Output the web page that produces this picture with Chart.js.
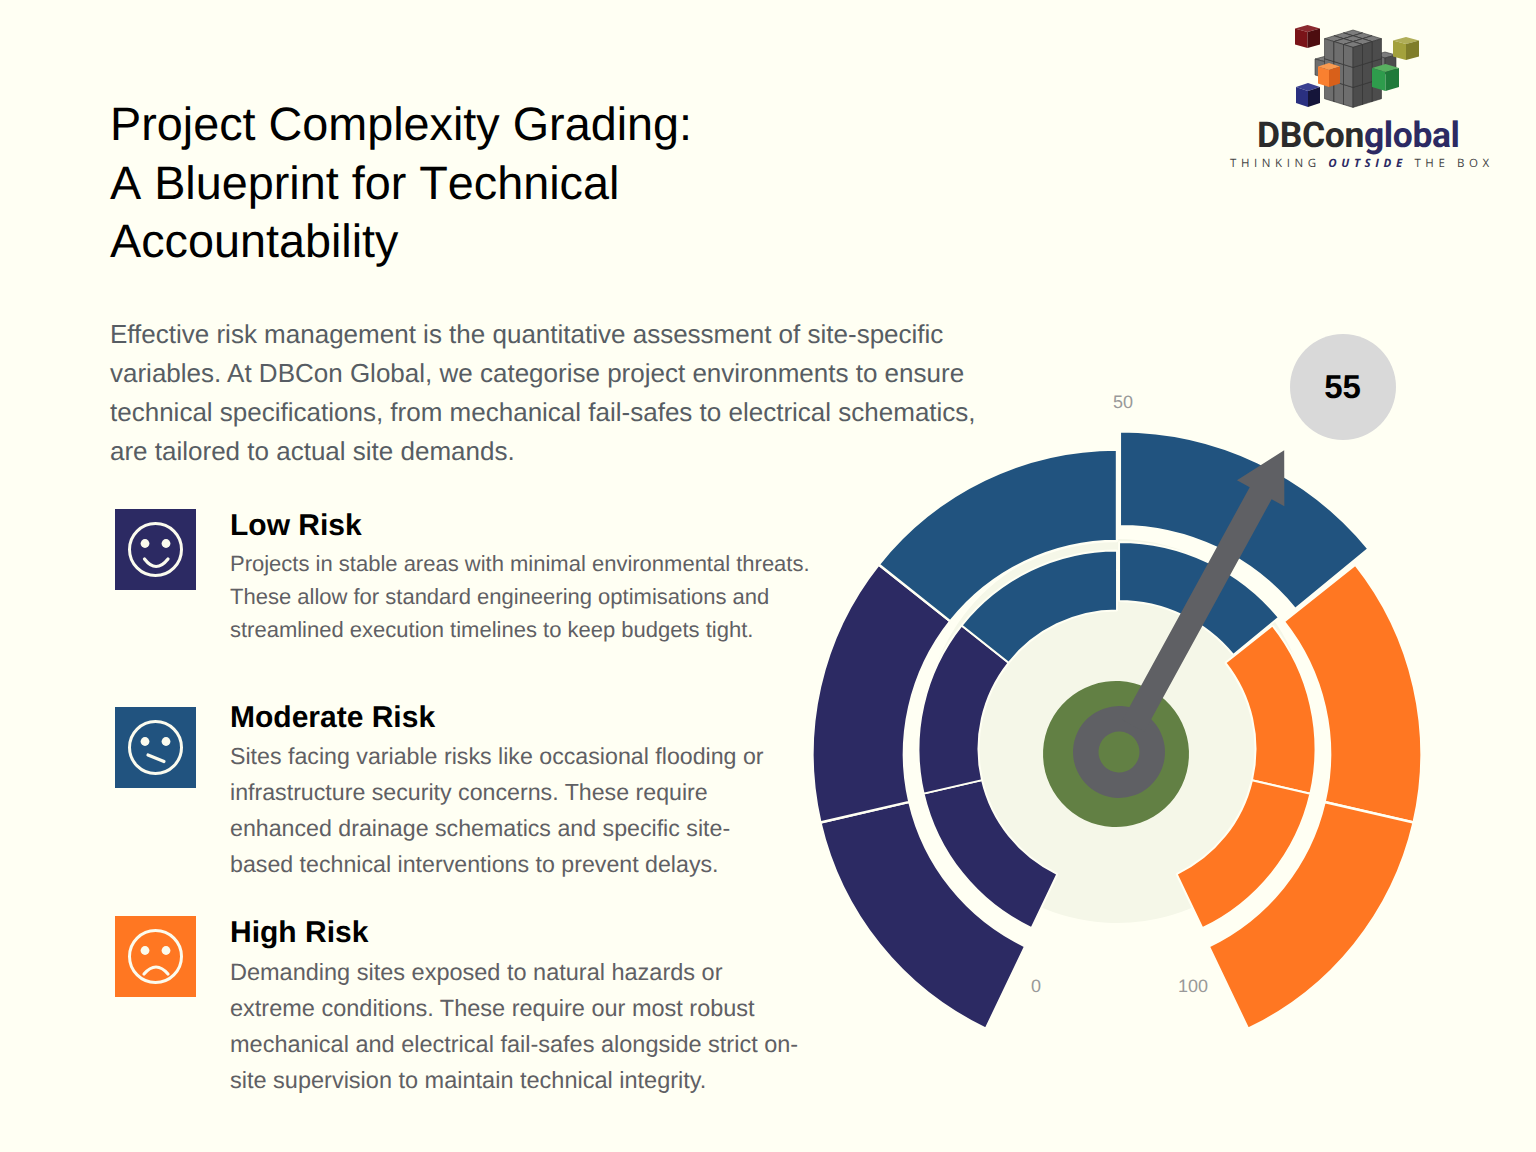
<!DOCTYPE html>
<html><head><meta charset="utf-8">
<script src="https://cdn.jsdelivr.net/npm/chart.js@4"></script>
<style>
html,body{margin:0;padding:0;background:#fffff3;}
body{width:1536px;height:1152px;position:relative;overflow:hidden;font-family:"Liberation Sans",Arial,sans-serif;text-rendering:geometricPrecision;}
.t{position:absolute;white-space:nowrap;}
canvas{position:absolute;}
.title{font-size:46.75px;line-height:58px;color:#000;left:110px;font-kerning:none;}
.body{font-size:26px;line-height:39px;color:#575d63;left:110px;}
.head{font-size:30px;line-height:36px;font-weight:bold;color:#000;left:230px;}
.desc{line-height:33px;color:#5f6064;left:230px;}
.low{font-size:22px;}
.mod{font-size:23.2px;}
.high{font-size:23.5px;}
.tick{font-size:18px;line-height:22px;color:#999;transform:translateX(-50%);}
.icon{position:absolute;left:115px;width:81px;height:81px;}
#bubble{position:absolute;left:1290px;top:334px;width:106px;height:106px;border-radius:50%;background:#d9d9d9;text-align:center;line-height:106px;font-size:33px;font-weight:bold;color:#000;text-indent:-1px;}
</style></head>
<body>
<div id="root"></div>
<svg id="logo" width="1536" height="180" style="position:absolute;left:0;top:0"></svg>
<script>
// ---- data ----
const segmentValues = [16.67, 16.67, 16.67, 16.67, 16.67, 16.67];
const segmentColors = ['#2c2a63', '#2c2a63', '#21537f', '#21537f', '#ff7722', '#ff7722'];
const activeSegment = 3;
const activeValues = [16.67, 16.67, 16.67, 16.36, 0.31, 16.67, 16.67];
const gapValue = 16.5;
const tickLabels = ['0', '50', '100'];
const gaugeValue = 55;
const titleLines = ['Project Complexity Grading:', 'A Blueprint for Technical', 'Accountability'];
const introLines = ['Effective risk management is the quantitative assessment of site-specific',
  'variables. At DBCon Global, we categorise project environments to ensure',
  'technical specifications, from mechanical fail-safes to electrical schematics,',
  'are tailored to actual site demands.'];
const lowLines = ['Projects in stable areas with minimal environmental threats.',
  'These allow for standard engineering optimisations and',
  'streamlined execution timelines to keep budgets tight.'];
const modLines = ['Sites facing variable risks like occasional flooding or',
  'infrastructure security concerns. These require',
  'enhanced drainage schematics and specific site-',
  'based technical interventions to prevent delays.'];
const highLines = ['Demanding sites exposed to natural hazards or',
  'extreme conditions. These require our most robust',
  'mechanical and electrical fail-safes alongside strict on-',
  'site supervision to maintain technical integrity.'];

// ---- text ----
const root = document.getElementById('root');
function text(cls, str, cy, lh, x) {
  const d = document.createElement('div');
  d.className = 't ' + cls; d.textContent = str;
  d.style.top = (cy - lh / 2) + 'px';
  if (x !== undefined) d.style.left = x + 'px';
  root.appendChild(d);
}
titleLines.forEach((s, i) => text('title', s, [124, 183, 241][i], 58));
introLines.forEach((s, i) => text('body', s, 334 + 39 * i, 39));
text('head', 'Low Risk', 526, 36);
lowLines.forEach((s, i) => text('desc low', s, 563.5 + 33 * i, 33));
text('head', 'Moderate Risk', 718, 36);
modLines.forEach((s, i) => text('desc mod', s, 756 + 36 * i, 33));
text('head', 'High Risk', 933, 36);
highLines.forEach((s, i) => text('desc high', s, 972 + 36 * i, 33));
text('tick', tickLabels[0], 986, 22, 1036);
text('tick', tickLabels[1], 402, 22, 1123);
text('tick', tickLabels[2], 986, 22, 1193);

// ---- icons ----
function face(top, bg, mouth) {
  const s = document.createElementNS('http://www.w3.org/2000/svg', 'svg');
  s.setAttribute('class', 'icon'); s.style.top = top + 'px';
  s.setAttribute('viewBox', '0 0 81 81');
  s.innerHTML = `<rect width="81" height="81" fill="${bg}"/>
  <circle cx="40.5" cy="40.5" r="26" fill="none" stroke="#fbfbee" stroke-width="3"/>
  <circle cx="30" cy="34.5" r="4.4" fill="#fbfbee"/><circle cx="51" cy="34.5" r="4.4" fill="#fbfbee"/>
  <path d="${mouth}" fill="none" stroke="#fbfbee" stroke-width="3.2" stroke-linecap="round"/>`;
  root.appendChild(s);
}
face(508.7, '#2c2a63', 'M29.5 50 Q41 65 53 50');
face(706.7, '#21537f', 'M33 48 L49 54.5');
face(915.7, '#ff7722', 'M29 58 Q41 44 53 58');

// ---- logo ----
const logo = document.getElementById('logo');
function cube(cx, y, w, th, vh, top, left, right, stroke) {
  const p = a => a.map(q => q.join(',')).join(' ');
  const sw = stroke ? `stroke="${stroke}" stroke-width="0.6"` : '';
  const m = y + th / 2, b = y + th;
  return `<polygon points="${p([[cx,y],[cx+w,m],[cx,b],[cx-w,m]])}" fill="${top}" ${sw}/>
  <polygon points="${p([[cx-w,m],[cx,b],[cx,b+vh],[cx-w,m+vh]])}" fill="${left}" ${sw}/>
  <polygon points="${p([[cx+w,m],[cx,b],[cx,b+vh],[cx+w,m+vh]])}" fill="${right}" ${sw}/>`;
}
let lg = '<g style="filter:blur(0.4px)">';
const G = ['#7c7c7c', '#6e6e6e', '#4c4c4c', '#333'];
lg += cube(1326, 56, 11, 6, 16, G[0], G[1], G[2], G[3]);
lg += cube(1385, 52, 11, 6, 16, G[0], G[1], G[2], G[3]);
const gw = 9.5, gt = 2.9, gv = 20;
for (let z = 2; z >= 0; z--) for (let x = 0; x < 3; x++) for (let y = 0; y < 3; y++) {
  lg += cube(1353 + (x - y) * gw, 30 + (x + y) * gt + z * gv, gw, gt * 2, gv, G[0], G[1], G[2], G[3]);
}
lg += cube(1307.5, 25, 12.5, 7, 16, '#8a2a2f', '#7a1418', '#4d0d10');
lg += cube(1406, 37, 13, 7, 16, '#b0ae58', '#a3a13c', '#7f7d2a');
lg += cube(1308, 83, 12, 8, 16, '#3a4090', '#2a3080', '#15153a');
lg += cube(1329, 63, 11, 7, 17, '#f99a50', '#f98030', '#d8601a');
lg += cube(1385.5, 64, 13.5, 8, 19, '#58b060', '#2e9c4c', '#1f7a3a');
lg += '</g>';
lg += `<text x="1257" y="147" font-family="Roboto" font-weight="700" font-size="35.5" fill="#2b2b2b" letter-spacing="-0.4">DBCon<tspan fill="#2c2a63">global</tspan></text>`;
lg += `<text x="1230" y="167" font-family="Open Sans" font-size="11.5" fill="#444" letter-spacing="4.6">THINKING <tspan font-weight="700" font-style="italic" fill="#2c2a63">OUTSIDE</tspan> THE BOX</text>`;
logo.innerHTML = lg;

// ---- gauge ----
function ring(cx, cy, ro, ri, values, colors, border, extraPlugins) {
  const half = 380;
  const c = document.createElement('canvas');
  c.width = half * 2; c.height = half * 2;
  c.style.cssText = `left:${cx - half}px;top:${cy - half}px;width:${half * 2}px;height:${half * 2}px`;
  document.body.appendChild(c);
  return new Chart(c, {
    type: 'doughnut',
    data: { labels: values.map((_, i) => 'S' + i), datasets: [{
      data: values, backgroundColor: colors,
      borderColor: colors.map(k => k === 'transparent' ? 'transparent' : '#fffff3'),
      borderWidth: border
    }] },
    options: {
      responsive: false, animation: false, maintainAspectRatio: false,
      rotation: -154.5, circumference: 360,
      radius: ro, cutout: (ri / ro * 100) + '%',
      layout: { padding: 0 },
      plugins: { legend: { display: false }, tooltip: { enabled: false } }
    },
    plugins: extraPlugins || []
  });
}
const allValues = segmentValues.concat([gapValue]);
const normalColors = segmentColors.map((k, i) => i === activeSegment ? 'transparent' : k).concat(['transparent']);
const activeSet = activeValues.concat([gapValue]);
const activeColors = activeSet.map((_, i) => i === activeSegment ? segmentColors[activeSegment] : 'transparent');

ring(1117, 731, 192, 0, [1], ['#f5f7e8'], 0);
ring(1117, 754, 304.5, 213, allValues, normalColors, 2.5);
ring(1120, 753, 321.5, 227, activeSet, activeColors, 2);
ring(1117, 749, 198.5, 138.5, allValues, normalColors, 2);
ring(1119, 749, 207, 148, activeSet, activeColors, 2);
ring(1116, 754, 73, 0, [1], ['#628044'], 0);

const needleAngle = 28.7, needleLen = 344, headBack = 295, headHalf = 27, shaftHalf = 12.5;
const needle = { id: 'needle', afterDatasetsDraw(chart) {
  const a = chart.getDatasetMeta(0).data[0];
  const t = needleAngle * Math.PI / 180;
  const ctx = chart.ctx;
  ctx.save();
  ctx.translate(a.x, a.y); ctx.rotate(t);
  ctx.fillStyle = '#5f6064';
  ctx.beginPath();
  ctx.moveTo(-shaftHalf, -30); ctx.lineTo(-shaftHalf, -headBack);
  ctx.lineTo(-headHalf, -headBack); ctx.lineTo(0, -needleLen);
  ctx.lineTo(headHalf, -headBack); ctx.lineTo(shaftHalf, -headBack);
  ctx.lineTo(shaftHalf, -30);
  ctx.closePath(); ctx.fill();
  ctx.restore();
} };
ring(1118.5, 752, 46, 20.5, [1], ['#5f6064'], 0, [needle]);

const b = document.createElement('div');
b.id = 'bubble'; b.textContent = gaugeValue;
document.body.appendChild(b);
</script>
</body></html>
